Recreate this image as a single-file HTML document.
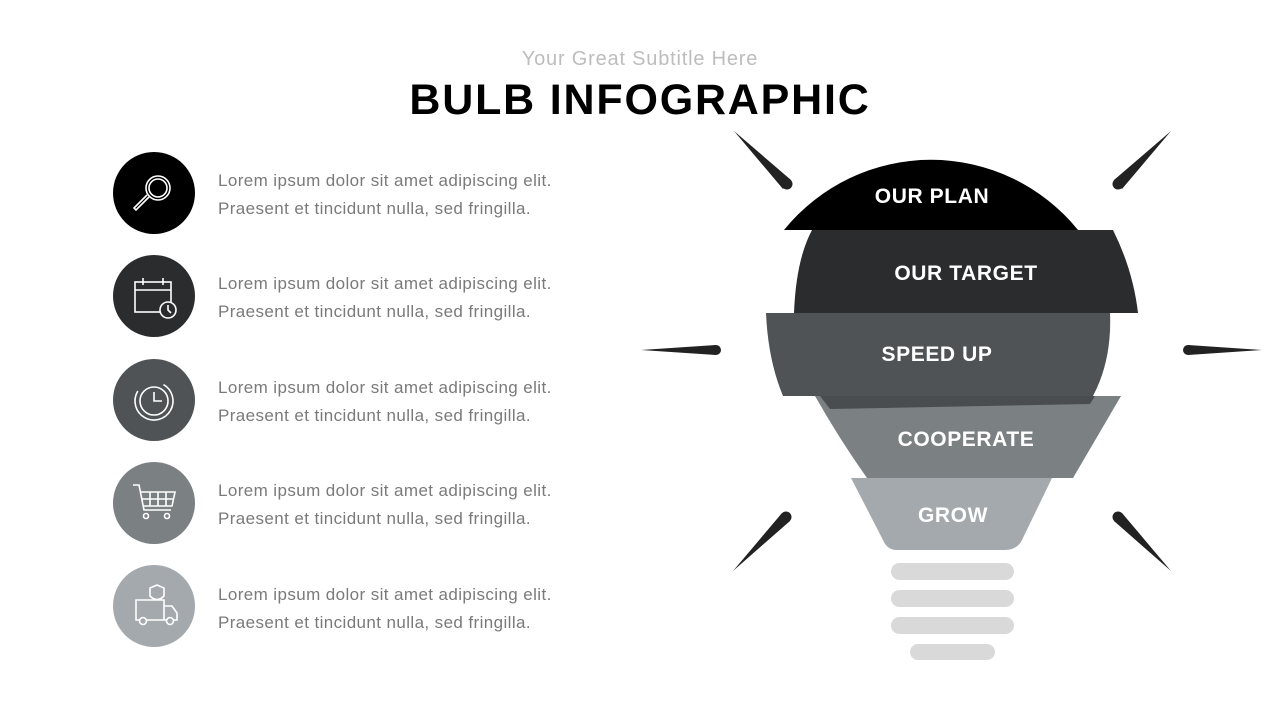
<!DOCTYPE html>
<html><head><meta charset="utf-8"><style>
body{margin:0;width:1280px;height:720px;background:#fff;position:relative;overflow:hidden;font-family:"Liberation Sans",sans-serif}
.sub{position:absolute;top:48px;left:0;width:1280px;text-align:center;font-size:20px;color:#bdbdbd;letter-spacing:0.8px}
.title{position:absolute;top:76px;left:0;width:1280px;text-align:center;font-size:43px;font-weight:bold;color:#000;letter-spacing:1.8px}
.t{position:absolute;left:218px;font-size:17px;color:#7a7a7a;line-height:28px;letter-spacing:0.4px;white-space:nowrap}
</style></head><body>
<div class="sub">Your Great Subtitle Here</div>
<div class="title">BULB INFOGRAPHIC</div>
<div class="t" style="top:167px">Lorem ipsum dolor sit amet adipiscing elit.<br>Praesent et tincidunt nulla, sed fringilla.</div>
<div class="t" style="top:270px">Lorem ipsum dolor sit amet adipiscing elit.<br>Praesent et tincidunt nulla, sed fringilla.</div>
<div class="t" style="top:374px">Lorem ipsum dolor sit amet adipiscing elit.<br>Praesent et tincidunt nulla, sed fringilla.</div>
<div class="t" style="top:477px">Lorem ipsum dolor sit amet adipiscing elit.<br>Praesent et tincidunt nulla, sed fringilla.</div>
<div class="t" style="top:581px">Lorem ipsum dolor sit amet adipiscing elit.<br>Praesent et tincidunt nulla, sed fringilla.</div>
<svg width="1280" height="720" style="position:absolute;left:0;top:0">
<g>
<circle cx="154" cy="193" r="41" fill="#000"/>
<circle cx="154" cy="296" r="41" fill="#2b2c2e"/>
<circle cx="154" cy="400" r="41" fill="#505356"/>
<circle cx="154" cy="503" r="41" fill="#7b8083"/>
<circle cx="154" cy="606" r="41" fill="#a4a9ad"/>
</g>
<g fill="none" stroke="#fff" stroke-width="1.6">
<circle cx="158" cy="188" r="12"/><circle cx="158" cy="188" r="9"/>
<path d="M149,197 L136,210 L134,208 L147,195"/>
<rect x="135" y="282" width="36" height="30"/><line x1="135" y1="290" x2="171" y2="290"/>
<line x1="143" y1="278" x2="143" y2="285"/><line x1="163" y1="278" x2="163" y2="285"/>
<circle cx="168" cy="310" r="8" fill="#2b2c2e"/><path d="M168,305 V310 L171,313"/>
<circle cx="154" cy="401" r="14"/><circle cx="154" cy="401" r="19" stroke-dasharray="90 30" transform="rotate(-60 154 401)"/>
<path d="M154,392 V401 H162"/>
<path d="M133,485 H139 L144,510 H171 M141,492 H175 L172,506 H143"/>
<path d="M150,492 V506 M158,492 V506 M166,492 V506 M142,499 H174"/>
<circle cx="146" cy="516" r="2.5"/><circle cx="167" cy="516" r="2.5"/>
<path d="M136,600 H164 V620 H136 Z M164,606 H172 L177,613 V620 H164"/>
<circle cx="143" cy="621" r="3.5" fill="#a4a9ad"/><circle cx="170" cy="621" r="3.5" fill="#a4a9ad"/>
<path d="M150,588 L157,585 L164,588 V596 Q157,603 150,596 Z" fill="#a4a9ad"/>
</g>
<g fill="#222">
<polygon points="734,131 791,180 783,189"/><circle cx="787" cy="184" r="5.5"/>
<polygon points="1171,131 1122,189 1114,180"/><circle cx="1118" cy="184" r="5.5"/>
<polygon points="641,350 716,345 716,355"/><circle cx="716" cy="350" r="5"/>
<polygon points="1262,350 1188,345 1188,355"/><circle cx="1188" cy="350" r="5"/>
<polygon points="733,571 782,513 790,521"/><circle cx="786" cy="517" r="5.5"/>
<polygon points="1171,571 1114,521 1122,513"/><circle cx="1118" cy="517" r="5.5"/>
</g>
<path d="M851,478 L1052,478 L1022,540 Q1017,550 1005,550 L897,550 Q887,550 883,540 Z" fill="#a4a9ad"/>
<path d="M815,396 L1121,396 L1073,478 L867,478 Q840,440 815,396 Z" fill="#7b8083"/>
<path d="M766,313 L1110,313 Q1112,360 1093,396 L783,396 Q768,360 766,313 Z" fill="#505356"/>
<path d="M820,396 L1095,396 L1090,404 L830,409 Z" fill="#4a4d50"/>
<path d="M812,230 L1113,230 Q1133,270 1138,313 L794,313 Q796,260 812,230 Z" fill="#2b2c2e"/>
<path d="M784,230 A189,189 0 0 1 1078,230 Z" fill="#000"/>
<g font-family="Liberation Sans, sans-serif" font-weight="bold" font-size="21" fill="#fff" text-anchor="middle" letter-spacing="0.6">
<text x="932" y="203">OUR PLAN</text>
<text x="966" y="280">OUR TARGET</text>
<text x="937" y="361">SPEED UP</text>
<text x="966" y="446">COOPERATE</text>
<text x="953" y="522">GROW</text>
</g>
<g fill="#d9d9d9">
<rect x="891" y="563" width="123" height="17" rx="8.5"/>
<rect x="891" y="590" width="123" height="17" rx="8.5"/>
<rect x="891" y="617" width="123" height="17" rx="8.5"/>
<rect x="910" y="644" width="85" height="16" rx="8"/>
</g>
</svg>
</body></html>
